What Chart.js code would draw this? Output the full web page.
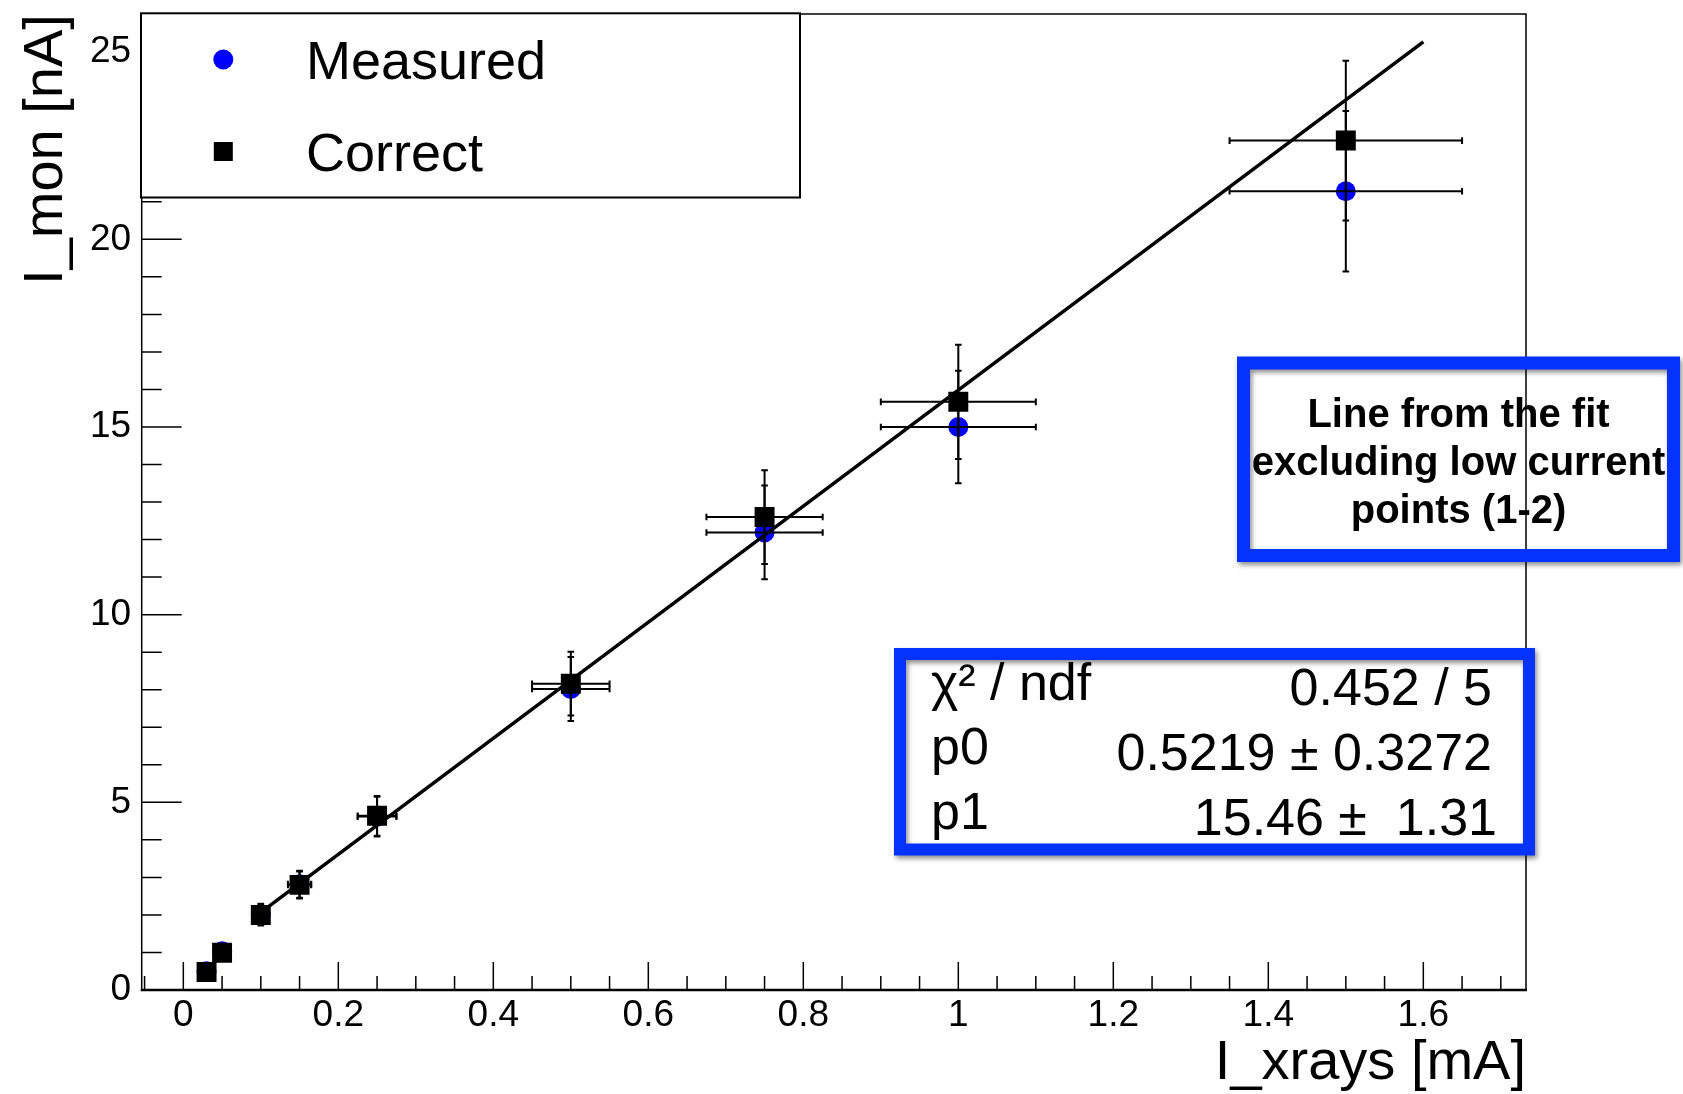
<!DOCTYPE html>
<html>
<head>
<meta charset="utf-8">
<script src="https://cdn.jsdelivr.net/npm/chart.js@4/dist/chart.umd.min.js"></script>
<style>
html,body{margin:0;padding:0;background:#fff;}
#wrap{width:1683px;height:1094px;position:relative;}
</style>
</head>
<body>
<div id="wrap"><canvas id="c" width="1683" height="1094"></canvas></div>
<script>
// ---------- data ----------
const xValues        = [0.03, 0.05, 0.10, 0.15, 0.25, 0.50, 0.75, 1.00, 1.50];
const xErrors        = [0.003, 0.005, 0.010, 0.015, 0.025, 0.050, 0.075, 0.100, 0.150];
const measuredValues = [0.50, 1.03, 2.02, 2.82, 4.62, 8.02, 12.19, 15.00, 21.28];
const measuredErrors = [0.15, 0.20, 0.28, 0.36, 0.53, 0.85, 1.25, 1.50, 2.14];
const correctValues  = [0.48, 0.99, 2.00, 2.80, 4.64, 8.16, 12.60, 15.67, 22.63];
const correctErrors  = [0.15, 0.20, 0.28, 0.36, 0.53, 0.85, 1.25, 1.52, 2.13];
const fitX = [0.10, 1.60];
const fitY = [2.07, 25.26];
const xTickValues = [0, 0.2, 0.4, 0.6, 0.8, 1.0, 1.2, 1.4, 1.6];
const xTickLabels = ['0', '0.2', '0.4', '0.6', '0.8', '1', '1.2', '1.4', '1.6'];
const yTickValues = [0, 5, 10, 15, 20, 25];
const yTickLabels = ['0', '5', '10', '15', '20', '25'];
const legendLabels = ['Measured', 'Correct'];
const statsLabels = ['\u03C7\u00B2 / ndf', 'p0', 'p1'];
const statsValues = ['0.452 / 5', '0.5219 \u00B1 0.3272', '15.46 \u00B1  1.31'];
const noteLines = ['Line from the fit', 'excluding low current', 'points (1-2)'];
const xAxisTitle = 'I_xrays [mA]';
const yAxisTitle = 'I_mon [nA]';

// ---------- styling ----------
const FONT = "'Liberation Sans', Arial, Helvetica, sans-serif";
const BLUE_BOX = '#0433ff';
const X_MIN = -0.0537, X_MAX = 1.7325, Y_MIN = 0, Y_MAX = 26;

const errorBars = {
  id: 'errorBars',
  afterDatasetsDraw(chart) {
    const {ctx, chartArea: a, scales: {x, y}} = chart;
    ctx.save();
    ctx.beginPath();
    ctx.rect(a.left, a.top, a.right - a.left, a.bottom - a.top);
    ctx.clip();
    ctx.strokeStyle = '#000';
    ctx.lineWidth = 2;
    const cap = 3.3;
    chart.data.datasets.forEach(ds => {
      if (!ds.errY) return;
      ds.data.forEach((p, i) => {
        const px = x.getPixelForValue(p.x);
        const py = y.getPixelForValue(p.y);
        const xl = x.getPixelForValue(p.x - ds.errX[i]);
        const xr = x.getPixelForValue(p.x + ds.errX[i]);
        const yt = y.getPixelForValue(p.y + ds.errY[i]);
        const yb = y.getPixelForValue(p.y - ds.errY[i]);
        ctx.beginPath();
        ctx.moveTo(xl, py); ctx.lineTo(xr, py);
        ctx.moveTo(xl, py - cap); ctx.lineTo(xl, py + cap);
        ctx.moveTo(xr, py - cap); ctx.lineTo(xr, py + cap);
        ctx.moveTo(px, yt); ctx.lineTo(px, yb);
        ctx.moveTo(px - cap, yt); ctx.lineTo(px + cap, yt);
        ctx.moveTo(px - cap, yb); ctx.lineTo(px + cap, yb);
        ctx.stroke();
      });
    });
    ctx.restore();
  }
};

function blueBox(ctx, x0, y0, x1, y1, bw) {
  ctx.save();
  ctx.shadowColor = 'rgba(0,0,0,0.45)';
  ctx.shadowBlur = 5;
  ctx.shadowOffsetX = 2;
  ctx.shadowOffsetY = 3;
  ctx.strokeStyle = BLUE_BOX;
  ctx.lineWidth = bw;
  ctx.strokeRect(x0 + bw / 2, y0 + bw / 2, x1 - x0 - bw, y1 - y0 - bw);
  ctx.restore();
}

const rootFrame = {
  id: 'rootFrame',
  afterDraw(chart) {
    const {ctx, chartArea: a, scales: {x, y}} = chart;
    ctx.save();
    ctx.strokeStyle = '#000';
    // frame
    ctx.lineWidth = 1.5;
    ctx.beginPath();
    ctx.moveTo(a.left, a.bottom); ctx.lineTo(a.left, a.top);
    ctx.lineTo(a.right, a.top); ctx.lineTo(a.right, a.bottom);
    ctx.stroke();
    ctx.lineWidth = 2.5;
    ctx.beginPath(); ctx.moveTo(a.left - 1, a.bottom); ctx.lineTo(a.right + 1, a.bottom); ctx.stroke();
    // x ticks (major every 0.2, minor every 0.05)
    ctx.lineWidth = 1.5;
    ctx.beginPath();
    for (let i = -2; i <= 40; i++) {
      const v = i * 0.05;
      if (v < X_MIN || v > X_MAX) continue;
      const px = x.getPixelForValue(v);
      const len = (i % 4 === 0) ? 28 : 14;
      ctx.moveTo(px, a.bottom); ctx.lineTo(px, a.bottom - len);
    }
    // y ticks (major every 5, minor every 1)
    for (let j = 0; j <= 26; j++) {
      if (j < Y_MIN || j > Y_MAX) continue;
      const py = y.getPixelForValue(j);
      const len = (j % 5 === 0) ? 40 : 20;
      ctx.moveTo(a.left, py); ctx.lineTo(a.left + len, py);
    }
    ctx.stroke();

    // legend
    const lx0 = 141, ly0 = 13.3, lx1 = 800, ly1 = 197.5;
    ctx.fillStyle = '#fff';
    ctx.fillRect(lx0, ly0, lx1 - lx0, ly1 - ly0);
    ctx.lineWidth = 2;
    ctx.strokeRect(lx0, ly0, lx1 - lx0, ly1 - ly0);
    ctx.fillStyle = '#0000ff';
    ctx.beginPath(); ctx.arc(223.3, 59.5, 10, 0, Math.PI * 2); ctx.fill();
    ctx.fillStyle = '#000';
    ctx.fillRect(223.3 - 9.5, 151.5 - 9.5, 19, 19);
    ctx.font = '54px ' + FONT;
    ctx.textAlign = 'left';
    ctx.textBaseline = 'alphabetic';
    ctx.fillText(legendLabels[0], 306, 78.5);
    ctx.fillText(legendLabels[1], 306, 171);

    // note box
    blueBox(ctx, 1237, 356.5, 1680, 562, 13);
    ctx.fillStyle = '#000';
    ctx.font = 'bold 40px ' + FONT;
    ctx.textAlign = 'center';
    const noteBase = [427, 475, 522.5];
    noteLines.forEach((t, i) => ctx.fillText(t, 1458.5, noteBase[i]));

    // stats box
    blueBox(ctx, 894, 648, 1535, 855.5, 12);
    ctx.font = '52px ' + FONT;
    const labBase = [700, 764, 829];
    const valBase = [705, 770, 835];
    ctx.textAlign = 'left';
    statsLabels.forEach((t, i) => ctx.fillText(t, 931, labBase[i]));
    ctx.textAlign = 'right';
    statsValues.forEach((t, i) => ctx.fillText(t, i === 2 ? 1497 : 1492, valBase[i]));
    ctx.restore();
  }
};

new Chart(document.getElementById('c'), {
  type: 'scatter',
  data: {
    datasets: [
      {
        label: 'fit',
        data: fitX.map((v, i) => ({x: v, y: fitY[i]})),
        showLine: true,
        borderColor: '#000',
        borderWidth: 3.5,
        pointRadius: 0,
        fill: false,
        order: 0
      },
      {
        label: legendLabels[1],
        data: xValues.map((v, i) => ({x: v, y: correctValues[i]})),
        pointStyle: 'rect',
        pointRadius: 14.1,
        backgroundColor: '#000',
        borderWidth: 0,
        errX: xErrors,
        errY: correctErrors,
        order: 1
      },
      {
        label: legendLabels[0],
        data: xValues.map((v, i) => ({x: v, y: measuredValues[i]})),
        pointStyle: 'circle',
        pointRadius: 10,
        backgroundColor: '#0000ff',
        borderWidth: 0,
        errX: xErrors,
        errY: measuredErrors,
        order: 2
      }
    ]
  },
  options: {
    responsive: false,
    animation: false,
    events: [],
    layout: {padding: {top: 13.3, right: 157, bottom: 0, left: 0}},
    plugins: {legend: {display: false}, tooltip: {enabled: false}, title: {display: false}},
    scales: {
      x: {
        type: 'linear', min: X_MIN, max: X_MAX,
        afterBuildTicks: s => { s.ticks = xTickValues.map(v => ({value: v})); },
        afterFit: s => { s.height = 104; s.paddingLeft = 0; s.paddingRight = 0; s.paddingTop = 0; s.paddingBottom = 0; },
        grid: {display: false, drawTicks: false},
        border: {display: false},
        ticks: {
          autoSkip: false, maxRotation: 0, minRotation: 0, padding: 7, color: '#000',
          font: {family: FONT, size: 37, lineHeight: 1},
          callback: v => xTickLabels[xTickValues.indexOf(v)]
        },
        title: {
          display: true, text: xAxisTitle, align: 'end', color: '#000',
          font: {family: FONT, size: 56, lineHeight: 1}, padding: {top: 0, bottom: 2}
        }
      },
      y: {
        type: 'linear', min: Y_MIN, max: Y_MAX,
        afterBuildTicks: s => { s.ticks = yTickValues.map(v => ({value: v})); },
        afterFit: s => { s.width = 141.7; s.paddingLeft = 0; s.paddingRight = 0; s.paddingTop = 0; s.paddingBottom = 0; },
        grid: {display: false, drawTicks: false},
        border: {display: false},
        ticks: {
          padding: 10.5, color: '#000',
          font: {family: FONT, size: 37, lineHeight: 1},
          callback: v => yTickLabels[yTickValues.indexOf(v)]
        },
        title: {
          display: true, text: yAxisTitle, align: 'end', color: '#000',
          font: {family: FONT, size: 56, lineHeight: 1}, padding: {top: 18.5, bottom: 0}
        }
      }
    }
  },
  plugins: [errorBars, rootFrame]
});
</script>
</body>
</html>
